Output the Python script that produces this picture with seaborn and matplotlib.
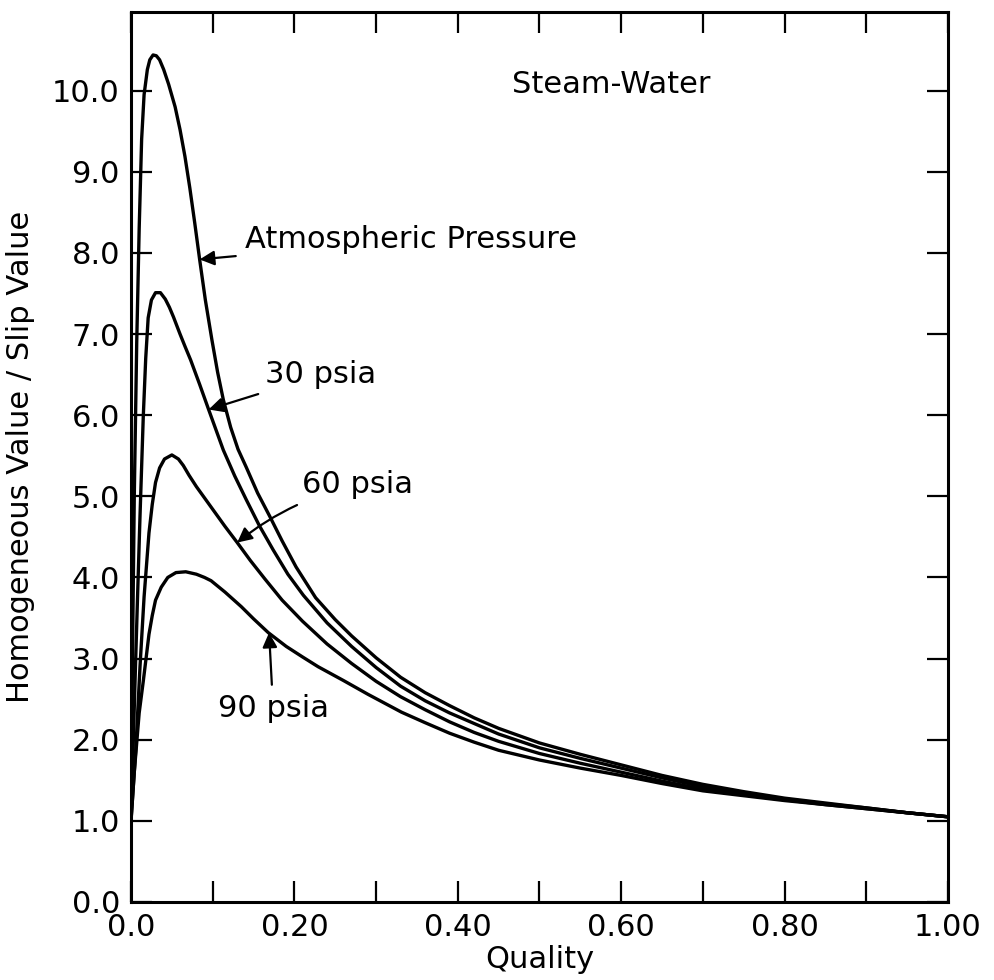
import numpy as np
import pandas as pd
import matplotlib
matplotlib.use("Agg")
import matplotlib.pyplot as plt
import seaborn as sns

# ---- data ----
atm_q = [0.0, 0.002, 0.004, 0.007, 0.010, 0.013, 0.016, 0.020, 0.023, 0.027, 0.031, 0.035,
         0.040, 0.046, 0.054, 0.060, 0.066, 0.072, 0.078, 0.084, 0.091, 0.099, 0.106, 0.113,
         0.122, 0.131, 0.141, 0.155, 0.170, 0.185, 0.202, 0.226, 0.25, 0.27, 0.30, 0.33,
         0.36, 0.39, 0.42, 0.45, 0.50, 0.55, 0.60, 0.65, 0.70, 0.75, 0.80, 0.85, 0.90, 0.95, 1.00]
atm_v = [1.0, 3.2, 5.0, 6.9, 8.3, 9.4, 9.95, 10.26, 10.38, 10.44, 10.43, 10.38,
         10.26, 10.08, 9.80, 9.52, 9.19, 8.80, 8.37, 7.92, 7.42, 6.93, 6.53, 6.19,
         5.85, 5.58, 5.36, 5.04, 4.75, 4.45, 4.13, 3.75, 3.48, 3.28, 3.01, 2.77,
         2.58, 2.42, 2.27, 2.14, 1.96, 1.82, 1.69, 1.56, 1.45, 1.36, 1.28, 1.22, 1.16, 1.10, 1.05]

p30_q = [0.0, 0.004, 0.008, 0.011, 0.015, 0.018, 0.021, 0.025, 0.030, 0.036, 0.042, 0.047,
         0.052, 0.060, 0.066, 0.073, 0.084, 0.095, 0.104, 0.113, 0.127, 0.141, 0.157, 0.174,
         0.192, 0.211, 0.24, 0.27, 0.30, 0.33, 0.36, 0.39, 0.42, 0.45, 0.50, 0.55, 0.60,
         0.65, 0.70, 0.75, 0.80, 0.85, 0.90, 0.95, 1.00]
p30_v = [1.0, 2.4, 3.76, 4.75, 5.98, 6.70, 7.20, 7.42, 7.51, 7.51, 7.43, 7.33,
         7.21, 7.00, 6.85, 6.68, 6.38, 6.07, 5.82, 5.57, 5.25, 4.96, 4.64, 4.34,
         4.04, 3.78, 3.44, 3.15, 2.89, 2.66, 2.48, 2.33, 2.20, 2.07, 1.90, 1.77, 1.65,
         1.53, 1.42, 1.34, 1.27, 1.21, 1.16, 1.10, 1.05]

p60_q = [0.0, 0.006, 0.011, 0.016, 0.022, 0.026, 0.030, 0.035, 0.041, 0.050, 0.058, 0.064,
         0.071, 0.080, 0.090, 0.100, 0.115, 0.130, 0.146, 0.164, 0.185, 0.21, 0.24, 0.27,
         0.30, 0.33, 0.36, 0.39, 0.42, 0.45, 0.50, 0.55, 0.60, 0.65, 0.70, 0.75, 0.80,
         0.85, 0.90, 0.95, 1.00]
p60_v = [1.0, 1.9, 2.9, 3.76, 4.55, 4.90, 5.17, 5.35, 5.46, 5.51, 5.46, 5.38,
         5.26, 5.12, 4.98, 4.84, 4.63, 4.43, 4.21, 3.98, 3.72, 3.46, 3.18, 2.94,
         2.72, 2.53, 2.37, 2.22, 2.09, 1.98, 1.83, 1.71, 1.60, 1.49, 1.39, 1.32, 1.26,
         1.20, 1.15, 1.10, 1.05]

p90_q = [0.0, 0.004, 0.010, 0.015, 0.019, 0.022, 0.026, 0.030, 0.037, 0.045, 0.055, 0.067,
         0.080, 0.090, 0.098, 0.115, 0.135, 0.150, 0.168, 0.19, 0.21, 0.229, 0.26, 0.29,
         0.331, 0.36, 0.39, 0.42, 0.45, 0.50, 0.55, 0.60, 0.65, 0.70, 0.75, 0.80, 0.85,
         0.90, 0.95, 1.00]
p90_v = [1.0, 1.6, 2.33, 2.72, 3.05, 3.30, 3.53, 3.72, 3.88, 4.00, 4.06, 4.07,
         4.04, 4.00, 3.96, 3.82, 3.64, 3.49, 3.32, 3.15, 3.02, 2.90, 2.73, 2.56,
         2.34, 2.21, 2.08, 1.97, 1.87, 1.75, 1.65, 1.56, 1.46, 1.37, 1.31, 1.25, 1.20,
         1.15, 1.10, 1.05]

series_names = ["Atmospheric Pressure", "30 psia", "60 psia", "90 psia"]

x_tick_vals = [0.0, 0.2, 0.4, 0.6, 0.8, 1.0]
x_tick_labels = ["0.0", "0.20", "0.40", "0.60", "0.80", "1.00"]
y_tick_vals = list(range(0, 11))
y_tick_labels = ["0.0", "1.0", "2.0", "3.0", "4.0", "5.0", "6.0", "7.0", "8.0", "9.0", "10.0"]

frames = []
for name, q, v in zip(series_names, [atm_q, p30_q, p60_q, p90_q], [atm_v, p30_v, p60_v, p90_v]):
    frames.append(pd.DataFrame({"Quality": q, "Ratio": v, "series": name}))
df = pd.concat(frames, ignore_index=True)

# ---- style ----
sns.set_style("ticks")
plt.rcParams["font.family"] = ["DejaVu Sans"]
plt.rcParams["text.color"] = "black"
plt.rcParams["axes.labelcolor"] = "black"
plt.rcParams["xtick.color"] = "black"
plt.rcParams["ytick.color"] = "black"
plt.rcParams["axes.linewidth"] = 2.2

fig = plt.figure(figsize=(9.94, 9.80), dpi=100)
ax = fig.add_axes([0.1318, 0.0796, 0.8219, 0.9082])

sns.lineplot(data=df, x="Quality", y="Ratio", units="series", estimator=None,
             sort=False, color="black", linewidth=2.4, ax=ax, legend=False)

ax.set_xlim(0, 1.0)
ax.set_ylim(0, 10.97)
ax.set_xticks(x_tick_vals)
ax.set_xticklabels(x_tick_labels)
ax.set_xticks(np.arange(0.1, 1.0, 0.2), minor=True)
ax.set_yticks(y_tick_vals)
ax.set_yticklabels(y_tick_labels)

for sp in ax.spines.values():
    sp.set_visible(True)
    sp.set_linewidth(2.2)
    sp.set_color("black")

ax.tick_params(axis="both", which="both", direction="in", top=True, right=True,
               length=15, width=1.6, color="black", labelcolor="black", labelsize=22, pad=8)

ax.set_xlabel("Quality", fontsize=22, labelpad=2, color="black")
ax.set_ylabel("Homogeneous Value / Slip Value", fontsize=22, labelpad=12, color="black")

ax.text(0.588, 10.07, "Steam-Water", fontsize=22, ha="center", va="center", color="black")

arrow = dict(arrowstyle="-|>", color="black", lw=1.6, mutation_scale=22, shrinkA=4, shrinkB=0)
ax.annotate("Atmospheric Pressure", xy=(0.084, 7.92), xytext=(0.139, 8.16),
            fontsize=22, va="center", ha="left", color="black", arrowprops=arrow)
ax.annotate("30 psia", xy=(0.095, 6.07), xytext=(0.164, 6.5),
            fontsize=22, va="center", ha="left", color="black", arrowprops=arrow)
ax.annotate("60 psia", xy=(0.130, 4.43), xytext=(0.209, 5.14),
            fontsize=22, va="center", ha="left", color="black",
            arrowprops=dict(arrow, connectionstyle="arc3,rad=0.12"))
ax.annotate("90 psia", xy=(0.169, 3.32), xytext=(0.106, 2.39),
            fontsize=22, va="center", ha="left", color="black", arrowprops=arrow)

fig.savefig("out.png", dpi=100)
